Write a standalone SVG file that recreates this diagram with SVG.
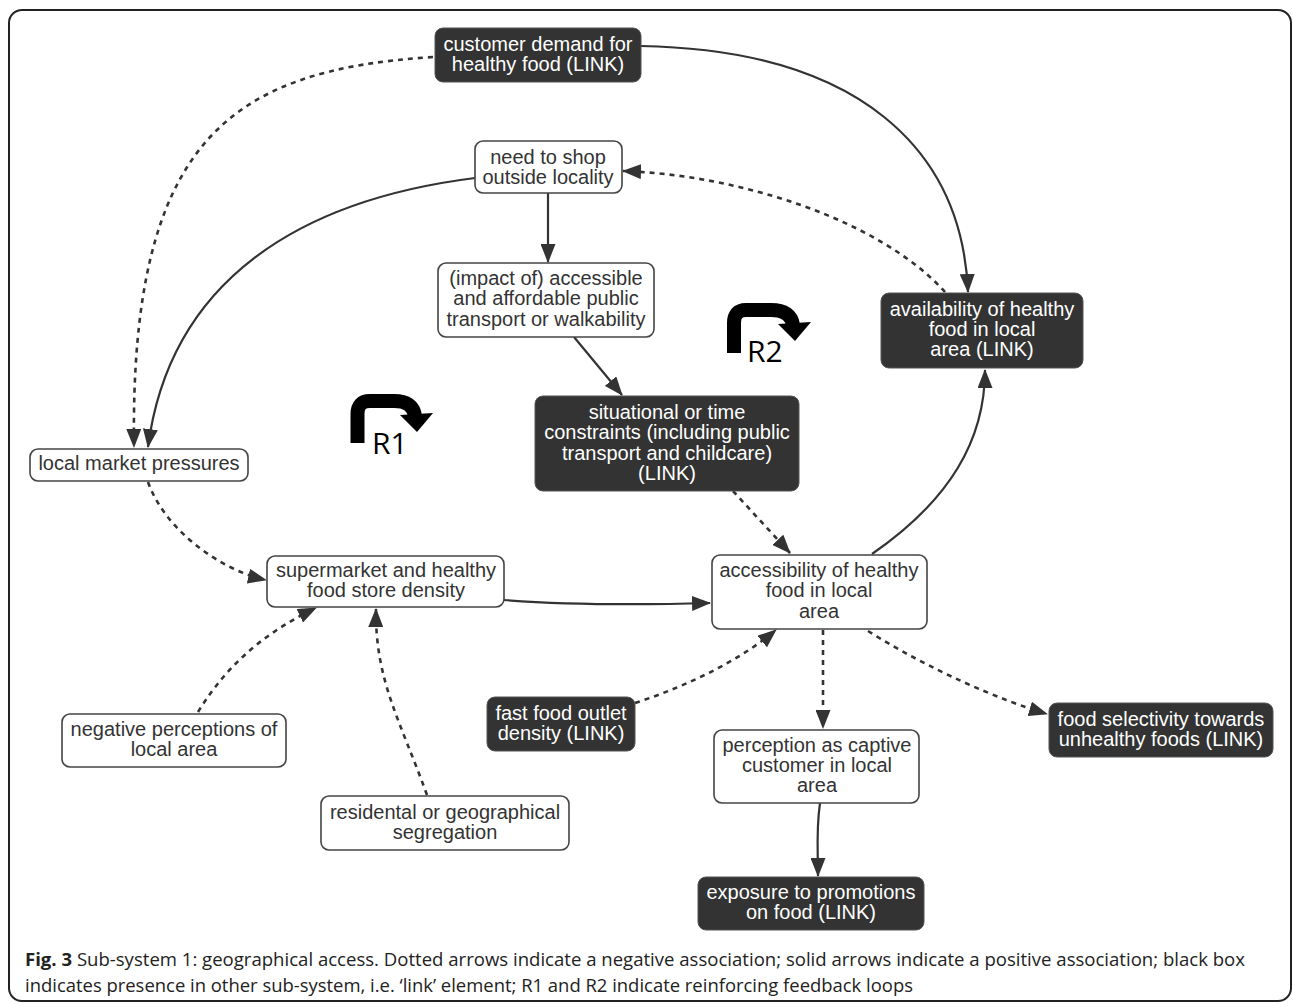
<svg xmlns="http://www.w3.org/2000/svg" width="1293" height="1004" viewBox="0 0 1293 1004">
<style>
.frame{fill:#fff;stroke:#222;stroke-width:2}
.w rect{fill:#fff;stroke:#444;stroke-width:1.6}
.d rect{fill:#333;stroke:#555;stroke-width:1}
text.t{font-family:"Liberation Sans",Arial,sans-serif;font-size:20px;text-anchor:middle}
.w text{fill:#333}
.d text{fill:#fff}
.sol{fill:none;stroke:#333;stroke-width:2.2;marker-end:url(#ah)}
.dot{fill:none;stroke:#333;stroke-width:2.6;stroke-dasharray:5 5;marker-end:url(#ah)}
.loop{fill:none;stroke:#000;stroke-width:14}
.rl{font-family:"Open Sans","Liberation Sans",sans-serif;font-size:30px;fill:#000}
.cap{font-family:"Open Sans","Liberation Sans",sans-serif;font-size:18px;fill:#222}
</style>
<defs>
<marker id="ah" viewBox="0 0 19 15" refX="18" refY="7.5" markerWidth="19" markerHeight="15" orient="auto" markerUnits="userSpaceOnUse">
<path d="M0,0 L19,7.5 L0,15 z" fill="#333"/>
</marker>
</defs>
<rect class="frame" x="9" y="10" width="1282" height="991" rx="13"/>

<g id="connectors">
<path class="sol" d="M641 46 C860 50 962 150 968 292"/>
<path class="dot" d="M433 57 C230 70 130 140 134 447"/>
<path class="sol" d="M475 178 C300 200 170 280 148 447"/>
<path class="sol" d="M548 193 V262"/>
<path class="dot" d="M945 292 C880 220 740 175 623 171"/>
<path class="sol" d="M574 337 L622 395"/>
<path class="dot" d="M733 491 L790 553"/>
<path class="dot" d="M148 482 C165 530 220 570 266 580"/>
<path class="sol" d="M504 600 C570 605 640 605 710 603"/>
<path class="sol" d="M872 554 C950 500 985 440 985 370"/>
<path class="dot" d="M198 712 C230 660 270 630 316 608"/>
<path class="dot" d="M427 795 C400 720 375 680 376 609"/>
<path class="dot" d="M635 703 C690 685 740 660 776 630"/>
<path class="dot" d="M823 630 V728"/>
<path class="dot" d="M868 631 C930 670 1000 700 1047 714"/>
<path class="sol" d="M820 803 C816 830 818 850 818 876"/>
</g>

<g id="customer-demand" class="d">
<rect x="435" y="28" width="206" height="54" rx="8"/>
<text class="t" x="538" y="51">customer demand for</text>
<text class="t" x="538" y="71">healthy food (LINK)</text>
</g>
<g id="need-to-shop" class="w">
<rect x="475" y="141" width="147" height="52" rx="8"/>
<text class="t" x="548" y="164">need to shop</text>
<text class="t" x="548" y="184">outside locality</text>
</g>
<g id="public-transport" class="w">
<rect x="438" y="263" width="216" height="74" rx="8"/>
<text class="t" x="546" y="285">(impact of) accessible</text>
<text class="t" x="546" y="305">and affordable public</text>
<text class="t" x="546" y="326">transport or walkability</text>
</g>
<g id="availability" class="d">
<rect x="881" y="293" width="202" height="75" rx="8"/>
<text class="t" x="982" y="316">availability of healthy</text>
<text class="t" x="982" y="336">food in local</text>
<text class="t" x="982" y="356">area (LINK)</text>
</g>
<g id="situational" class="d">
<rect x="535" y="396" width="264" height="95" rx="8"/>
<text class="t" x="667" y="419">situational or time</text>
<text class="t" x="667" y="439">constraints (including public</text>
<text class="t" x="667" y="460">transport and childcare)</text>
<text class="t" x="667" y="480">(LINK)</text>
</g>
<g id="local-market" class="w">
<rect x="30" y="449" width="218" height="32" rx="8"/>
<text class="t" x="139" y="470">local market pressures</text>
</g>
<g id="supermarket" class="w">
<rect x="267" y="556" width="237" height="51" rx="8"/>
<text class="t" x="386" y="577">supermarket and healthy</text>
<text class="t" x="386" y="597">food store density</text>
</g>
<g id="accessibility" class="w">
<rect x="712" y="555" width="215" height="74" rx="8"/>
<text class="t" x="819" y="577">accessibility of healthy</text>
<text class="t" x="819" y="597">food in local</text>
<text class="t" x="819" y="618">area</text>
</g>
<g id="fast-food" class="d">
<rect x="487" y="697" width="148" height="54" rx="8"/>
<text class="t" x="561" y="720">fast food outlet</text>
<text class="t" x="561" y="740">density (LINK)</text>
</g>
<g id="food-selectivity" class="d">
<rect x="1049" y="703" width="224" height="54" rx="8"/>
<text class="t" x="1161" y="726">food selectivity towards</text>
<text class="t" x="1161" y="746">unhealthy foods (LINK)</text>
</g>
<g id="captive-customer" class="w">
<rect x="714" y="730" width="205" height="73" rx="8"/>
<text class="t" x="817" y="752">perception as captive</text>
<text class="t" x="817" y="772">customer in local</text>
<text class="t" x="817" y="792">area</text>
</g>
<g id="promotions" class="d">
<rect x="698" y="877" width="226" height="53" rx="8"/>
<text class="t" x="811" y="899">exposure to promotions</text>
<text class="t" x="811" y="919">on food (LINK)</text>
</g>
<g id="negative-perceptions" class="w">
<rect x="62" y="714" width="224" height="53" rx="8"/>
<text class="t" x="174" y="736">negative perceptions of</text>
<text class="t" x="174" y="756">local area</text>
</g>
<g id="segregation" class="w">
<rect x="321" y="796" width="248" height="54" rx="8"/>
<text class="t" x="445" y="819">residental or geographical</text>
<text class="t" x="445" y="839">segregation</text>
</g>

<g id="R1">
<path class="loop" d="M357.5 443 V414 Q357.5 401 370 401 H394 Q413 401 415 416"/>
<polygon points="400,415 433,413 417,432" fill="#000"/>
<text class="rl" x="372" y="454">R1</text>
</g>
<g id="R2">
<path class="loop" d="M734 353 V323 Q734 310 746 310 H771 Q791 310 793 325"/>
<polygon points="778,324 811,322 795,341" fill="#000"/>
<text class="rl" x="747" y="362">R2</text>
</g>

<g id="caption">
<text class="cap" x="25" y="966" textLength="1220" lengthAdjust="spacingAndGlyphs"><tspan font-weight="bold">Fig. 3</tspan> Sub-system 1: geographical access. Dotted arrows indicate a negative association; solid arrows indicate a positive association; black box</text>
<text class="cap" x="25" y="992" textLength="888" lengthAdjust="spacingAndGlyphs">indicates presence in other sub-system, i.e. ‘link’ element; R1 and R2 indicate reinforcing feedback loops</text>
</g>
</svg>
